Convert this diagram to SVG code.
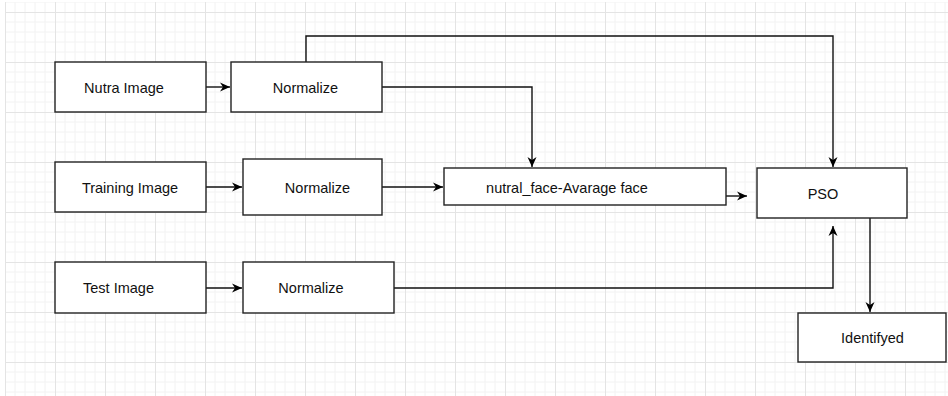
<svg xmlns="http://www.w3.org/2000/svg" width="948" height="396" viewBox="0 0 948 396">
<defs>
<pattern id="grid" patternUnits="userSpaceOnUse" x="5" y="12" width="50" height="50">
<path d="M10,0V50M20,0V50M30,0V50M40,0V50M0,10H50M0,20H50M0,30H50M0,40H50" stroke="#f2f2f2" stroke-width="1" fill="none"/>
<path d="M0.5,0V50M0,0.5H50" stroke="#e4e4e4" stroke-width="1" fill="none"/>
</pattern>
<marker id="arr" markerWidth="12" markerHeight="12" refX="10" refY="6" orient="auto" markerUnits="userSpaceOnUse">
<path d="M0,1.5 L10,6 L0,10.5 L3,6 Z" fill="#000"/>
</marker>
<style>
.box{fill:#fff;stroke:#222;stroke-width:1.4}
.lbl{font-family:"Liberation Sans",Arial,sans-serif;font-size:14.5px;fill:#111;text-anchor:middle}
.c{fill:none;stroke:#111;stroke-width:1.4}
</style>
</defs>
<rect x="0" y="0" width="948" height="396" fill="#fff"/>
<rect x="5" y="2" width="943" height="394" fill="url(#grid)"/>
<g id="connectors">
<path class="c" d="M206,87H230" marker-end="url(#arr)"/>
<path class="c" d="M306,62V36H833V167" marker-end="url(#arr)"/>
<path class="c" d="M382,87H532V167" marker-end="url(#arr)"/>
<path class="c" d="M206,187H242" marker-end="url(#arr)"/>
<path class="c" d="M382,187H443" marker-end="url(#arr)"/>
<path class="c" d="M726,196H747" marker-end="url(#arr)"/>
<path class="c" d="M206,288H242" marker-end="url(#arr)"/>
<path class="c" d="M394,288H833V226" marker-end="url(#arr)"/>
<path class="c" d="M870,218V312" marker-end="url(#arr)"/>
</g>
<g id="nutra-image"><rect class="box" x="55" y="62" width="151" height="50"/><text class="lbl" x="124" y="93">Nutra Image</text></g>
<g id="normalize-1"><rect class="box" x="231" y="62" width="151" height="50"/><text class="lbl" x="305.5" y="93">Normalize</text></g>
<g id="training-image"><rect class="box" x="55" y="162" width="151" height="50"/><text class="lbl" x="130" y="193">Training Image</text></g>
<g id="normalize-2"><rect class="box" x="243" y="159" width="139" height="56"/><text class="lbl" x="317.5" y="193">Normalize</text></g>
<g id="nutral-face"><rect class="box" x="444" y="168" width="282" height="37"/><text class="lbl" x="567" y="193">nutral_face-Avarage face</text></g>
<g id="pso"><rect class="box" x="757" y="168" width="150" height="50"/><text class="lbl" x="823" y="199">PSO</text></g>
<g id="test-image"><rect class="box" x="55" y="262" width="151" height="51"/><text class="lbl" x="118.5" y="293">Test Image</text></g>
<g id="normalize-3"><rect class="box" x="243" y="262" width="151" height="51"/><text class="lbl" x="311" y="293">Normalize</text></g>
<g id="identifyed"><rect class="box" x="798" y="313" width="148" height="49"/><text class="lbl" x="872.5" y="343">Identifyed</text></g>
</svg>
